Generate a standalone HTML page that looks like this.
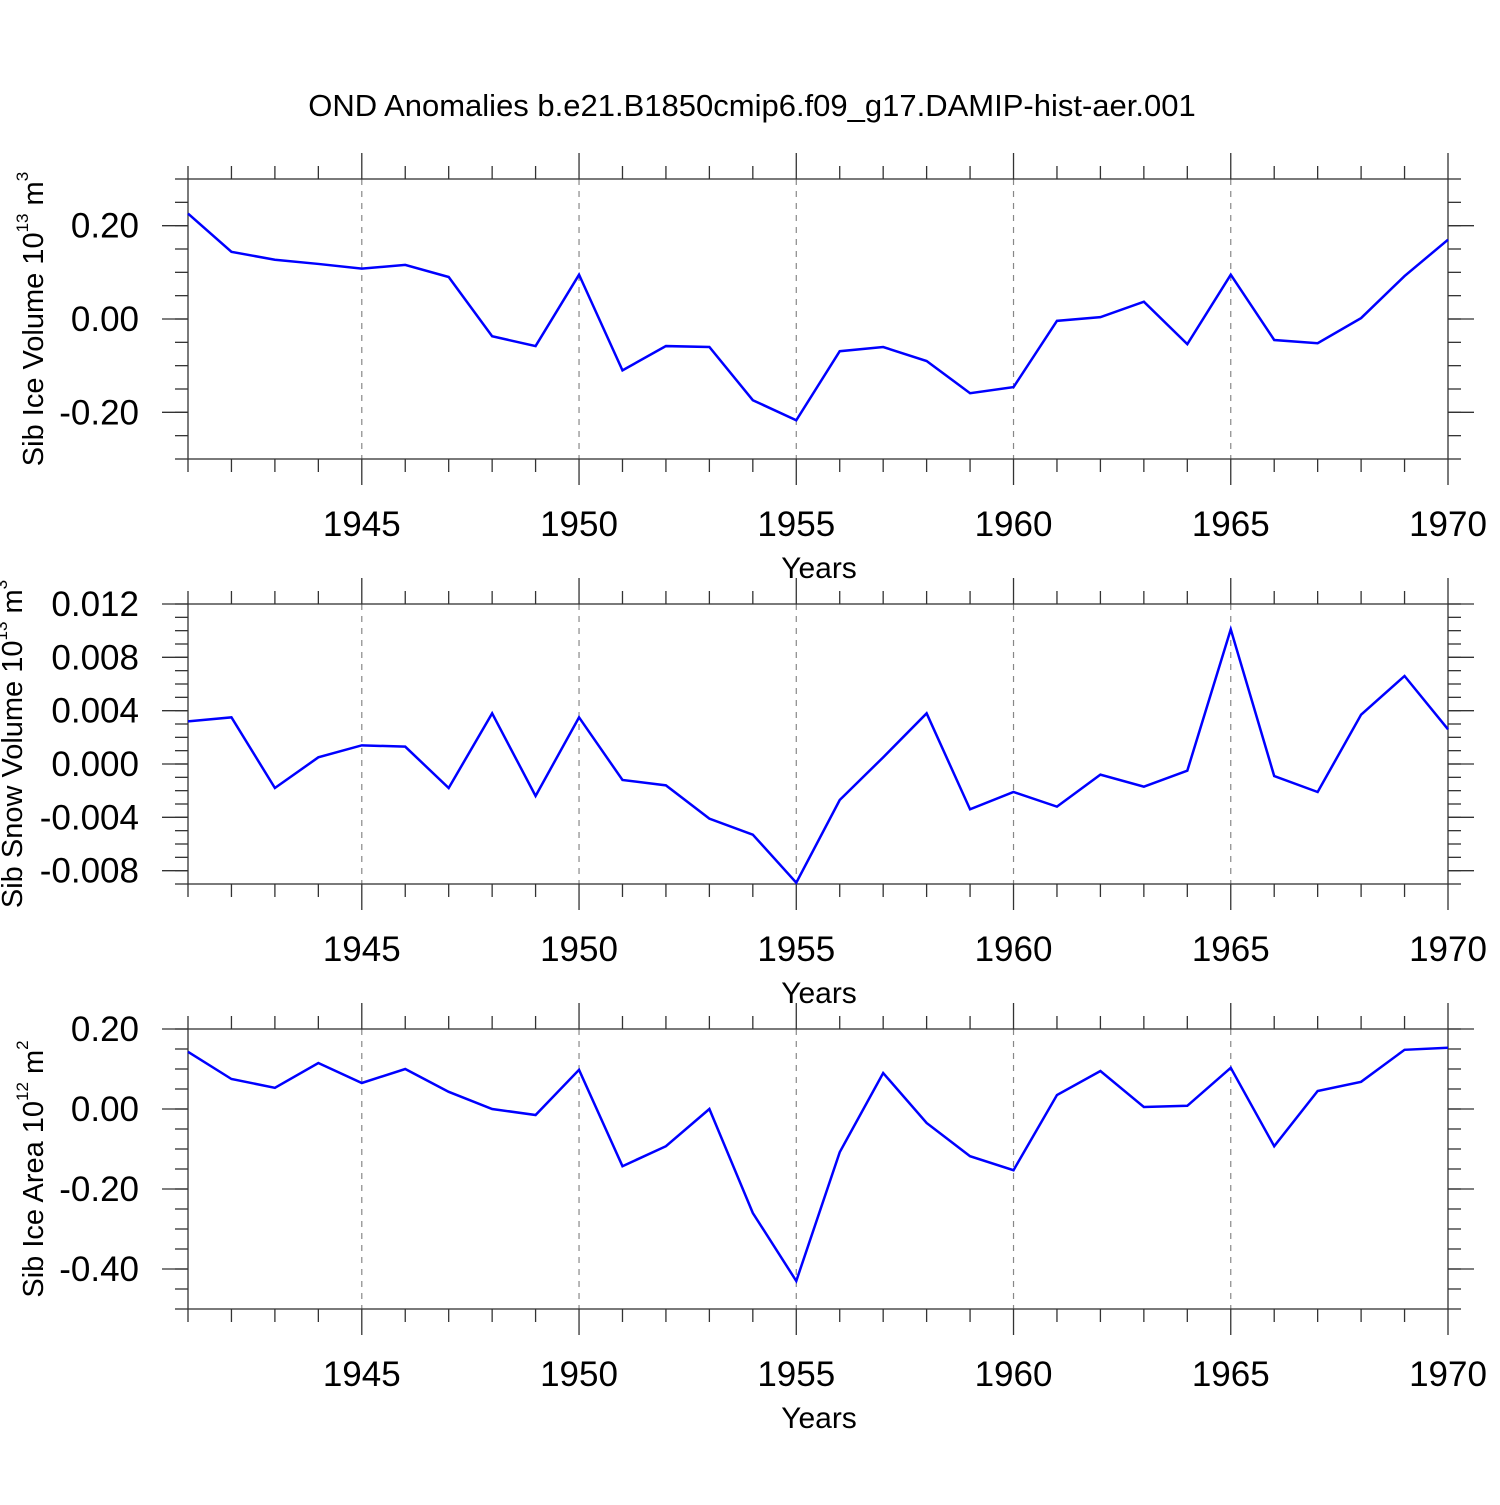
<!DOCTYPE html>
<html><head><meta charset="utf-8"><style>
body{margin:0;background:#fff;}
svg text{font-family:"Liberation Sans",Arial,sans-serif;fill:#000;}
</style></head><body>
<svg id="chart" width="1500" height="1500" xmlns="http://www.w3.org/2000/svg">
<rect width="1500" height="1500" fill="#fff"/>
<text x="752" y="116" font-size="31" text-anchor="middle">OND Anomalies b.e21.B1850cmip6.f09_g17.DAMIP-hist-aer.001</text>
</svg>
<script>
const years = [1941,1942,1943,1944,1945,1946,1947,1948,1949,1950,1951,1952,1953,1954,1955,1956,1957,1958,1959,1960,1961,1962,1963,1964,1965,1966,1967,1968,1969,1970];
const iceVolume = [0.226,0.144,0.127,0.118,0.108,0.116,0.090,-0.037,-0.058,0.095,-0.110,-0.058,-0.060,-0.174,-0.217,-0.069,-0.060,-0.090,-0.159,-0.146,-0.004,0.004,0.037,-0.054,0.095,-0.045,-0.052,0.002,0.092,0.170];
const snowVolume = [0.0032,0.0035,-0.0018,0.0005,0.0014,0.0013,-0.0018,0.0038,-0.0024,0.0035,-0.0012,-0.0016,-0.0041,-0.0053,-0.0089,-0.0027,0.0005,0.0038,-0.0034,-0.0021,-0.0032,-0.0008,-0.0017,-0.0005,0.0101,-0.0009,-0.0021,0.0037,0.0066,0.0026];
const iceArea = [0.143,0.075,0.053,0.115,0.065,0.100,0.043,0.0,-0.015,0.098,-0.143,-0.093,0.0,-0.26,-0.43,-0.108,0.09,-0.035,-0.118,-0.153,0.035,0.095,0.005,0.008,0.103,-0.093,0.045,0.068,0.148,0.153];
const xTickLabels = [1945,1950,1955,1960,1965,1970];
const iceVolTicks = [-0.2,0,0.2];
const snowTicks = [-0.008,-0.004,0,0.004,0.008,0.012];
const areaTicks = [-0.4,-0.2,0,0.2];

const svg = document.getElementById('chart');
const NS = 'http://www.w3.org/2000/svg';
function mk(tag, attrs, parent){const e=document.createElementNS(NS,tag);for(const k in attrs)e.setAttribute(k,attrs[k]);(parent||svg).appendChild(e);return e;}

const X0=188, X1=1448, Y_START=1941, Y_END=1970;
function xs(yr){return X0+(yr-Y_START)/(Y_END-Y_START)*(X1-X0);}

function panel(cfg){
  const g = mk('g',{});
  
  
  const top=cfg.top, bot=cfg.top+280;
  const ys=v=>bot-(v-cfg.min)/(cfg.max-cfg.min)*(bot-top);
  const ax='#333';
  for(const yr of xTickLabels){ if(yr===Y_END) continue;
    const l=mk('line',{x1:xs(yr),x2:xs(yr),y1:top,y2:bot,stroke:'#888','stroke-width':1.2,'stroke-dasharray':'6,6'},g);
    
    
  }
  for(let yr=Y_START; yr<=Y_END; yr++){
    const major=yr%5===0, len=major?26:13;
    mk('line',{x1:xs(yr),x2:xs(yr),y1:top-len,y2:top,stroke:ax,'stroke-width':1.3},g);
    mk('line',{x1:xs(yr),x2:xs(yr),y1:bot,y2:bot+len,stroke:ax,'stroke-width':1.3},g);
  }
  for(const yr of xTickLabels){
    const t=mk('text',{x:xs(yr),y:bot+77,'font-size':35,'text-anchor':'middle'},g);
    t.textContent=yr;
    
    
  }
  const xt=mk('text',{x:819,y:bot+119,'font-size':30,'text-anchor':'middle'},g);
  xt.textContent='Years';
  
  
  const n=Math.round((cfg.max-cfg.min)/cfg.minor);
  for(let i=0;i<=n;i++){
    const v=cfg.min+i*cfg.minor, y=ys(v);
    mk('line',{x1:X0-13,x2:X0,y1:y,y2:y,stroke:ax,'stroke-width':1.3},g);
    mk('line',{x1:X1,x2:X1+13,y1:y,y2:y,stroke:ax,'stroke-width':1.3},g);
  }
  for(const v of cfg.ticks){
    const y=ys(v);
    mk('line',{x1:X0-26,x2:X0,y1:y,y2:y,stroke:ax,'stroke-width':1.3},g);
    mk('line',{x1:X1,x2:X1+26,y1:y,y2:y,stroke:ax,'stroke-width':1.3},g);
    const t=mk('text',{x:139,y:y+12,'font-size':35,'text-anchor':'end'},g);
    t.textContent=v.toFixed(cfg.dec);
    
    
  }
  mk('rect',{x:X0,y:top,width:X1-X0,height:bot-top,fill:'none',stroke:ax,'stroke-width':1.3},g);
  const yt=mk('text',{transform:`translate(${cfg.titleX},${top+140}) rotate(-90)`,'font-size':29,'text-anchor':'middle'},g);
  yt.innerHTML=cfg.title+' 10<tspan font-size="17" dy="-15">'+cfg.exp+'</tspan><tspan dy="15"> m</tspan><tspan font-size="17" dy="-15">'+cfg.unitExp+'</tspan>';
  
  
  const pts=years.map((yr,i)=>xs(yr)+','+ys(cfg.data[i])).join(' ');
  const pl=mk('polyline',{points:pts,fill:'none',stroke:'#0000ff','stroke-width':2.5,'stroke-linejoin':'miter'},g);
  
  
}
panel({name:'ice-volume-panel',top:179,min:-0.3,max:0.3,minor:0.05,ticks:iceVolTicks,dec:2,data:iceVolume,title:'Sib Ice Volume',exp:'13',unitExp:'3',titleX:43});
panel({name:'snow-volume-panel',top:604,min:-0.009,max:0.012,minor:0.001,ticks:snowTicks,dec:3,data:snowVolume,title:'Sib Snow Volume',exp:'13',unitExp:'3',titleX:22});
panel({name:'ice-area-panel',top:1029,min:-0.5,max:0.2,minor:0.05,ticks:areaTicks,dec:2,data:iceArea,title:'Sib Ice Area',exp:'12',unitExp:'2',titleX:43});
</script>
</body></html>
